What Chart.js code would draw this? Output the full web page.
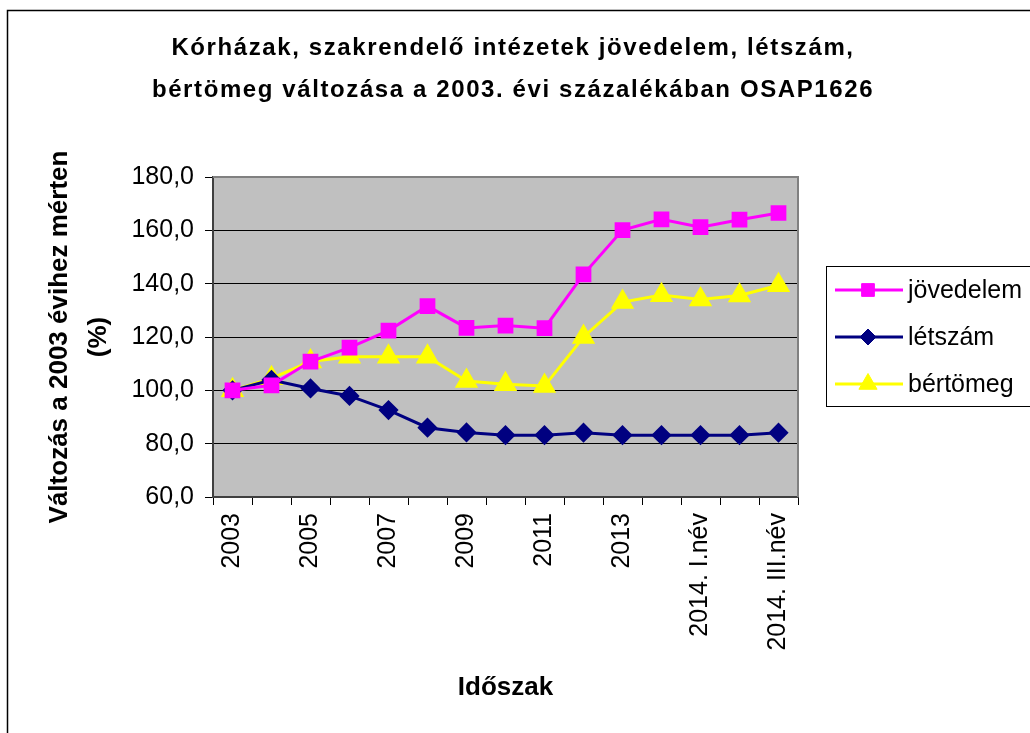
<!DOCTYPE html>
<html>
<head>
<meta charset="utf-8">
<script src="https://cdn.jsdelivr.net/npm/chart.js@4"></script>
<style>
  body { margin: 0; background: #fff; }
  canvas { display: block; }
</style>
</head>
<body>
<canvas id="myChart" width="1030" height="733"></canvas>
<script>
// data
const periods = [
  "2003", "2004", "2005", "2006", "2007", "2008", "2009", "2010",
  "2011", "2012", "2013", "2013. IV.név", "2014. I.név", "2014. II.név", "2014. III.név",
];
const jovedelem = [100, 101.9, 110.8, 116, 122.4, 131.6, 123.4, 124.3, 123.3, 143.5, 160.1, 164.1, 161.2, 164, 166.5];
const letszam = [100, 103.9, 100.7, 97.9, 92.6, 86, 84.2, 83.2, 83.2, 84.1, 83.2, 83.2, 83.2, 83.2, 84.1];
const bertomeg = [100, 104.5, 110.8, 112.6, 112.6, 112.6, 103.5, 102.3, 101.6, 120, 133.1, 135.7, 134.1, 135.6, 139.4];
const yTicks = [60, 80, 100, 120, 140, 160, 180];

const titleLines = [
  "Kórházak, szakrendelő intézetek jövedelem, létszám,",
  "bértömeg változása a 2003. évi százalékában OSAP1626",
];

const FONT = "'Liberation Sans', Arial, sans-serif";

// background, frame, title and legend
const decor = {
  id: "decor",
  beforeDraw(chart) {
    const { ctx, chartArea: a } = chart;
    ctx.save();
    ctx.fillStyle = "#c0c0c0";
    ctx.fillRect(a.left, a.top, a.right - a.left, a.bottom - a.top);
    ctx.restore();
  },
  afterDraw(chart) {
    const { ctx, chartArea: a } = chart;
    ctx.save();
    // plot border (top, right)
    ctx.strokeStyle = "#808080";
    ctx.lineWidth = 2;
    ctx.beginPath();
    ctx.moveTo(a.left, a.top);
    ctx.lineTo(a.right, a.top);
    ctx.lineTo(a.right, a.bottom);
    ctx.stroke();

    // outer frame
    ctx.strokeStyle = "#000";
    ctx.lineWidth = 1.5;
    ctx.beginPath();
    ctx.moveTo(7.5, 740);
    ctx.lineTo(7.5, 10.5);
    ctx.lineTo(1040, 10.5);
    ctx.stroke();

    // title
    ctx.fillStyle = "#000";
    ctx.font = "bold 24px " + FONT;
    ctx.letterSpacing = "1.6px";
    ctx.textAlign = "center";
    ctx.textBaseline = "alphabetic";
    ctx.fillText(titleLines[0], 513, 55);
    ctx.fillText(titleLines[1], 513, 97);
    ctx.letterSpacing = "0px";

    // legend
    ctx.strokeStyle = "#000";
    ctx.lineWidth = 1;
    ctx.strokeRect(826.5, 266.5, 210, 140);
    const rows = [290, 337, 384];
    chart.data.datasets.forEach((ds, i) => {
      const y = rows[i];
      ctx.strokeStyle = ds.borderColor;
      ctx.lineWidth = ds.borderWidth;
      ctx.beginPath();
      ctx.moveTo(835, y);
      ctx.lineTo(903, y);
      ctx.stroke();
      ctx.fillStyle = ds.pointBackgroundColor;
      ctx.strokeStyle = ds.pointBorderColor;
      ctx.lineWidth = 1;
      Chart.helpers.drawPoint(ctx, {
        pointStyle: ds.pointStyle,
        radius: ds.pointRadius,
        borderWidth: 1,
        rotation: 0,
      }, 868, y);
      ctx.fillStyle = "#000";
      ctx.font = "25px " + FONT;
      ctx.textAlign = "left";
      ctx.textBaseline = "middle";
      ctx.fillText(ds.label, 908, y + 1);
    });
    ctx.restore();
  },
};

const ctx = document.getElementById("myChart");

const chart = new Chart(ctx, {
  type: "line",
  data: {
    labels: periods,
    datasets: [
      {
        label: "jövedelem",
        data: jovedelem,
        borderColor: "#ff00ff",
        backgroundColor: "#ff00ff",
        pointBackgroundColor: "#ff00ff",
        pointBorderColor: "#ff00ff",
        pointStyle: "rect",
        pointRadius: 9,
        borderWidth: 3,
      },
      {
        label: "létszám",
        data: letszam,
        borderColor: "#000080",
        backgroundColor: "#000080",
        pointBackgroundColor: "#000080",
        pointBorderColor: "#000080",
        pointStyle: "rectRot",
        pointRadius: 8,
        borderWidth: 3,
      },
      {
        label: "bértömeg",
        data: bertomeg,
        borderColor: "#ffff00",
        backgroundColor: "#ffff00",
        pointBackgroundColor: "#ffff00",
        pointBorderColor: "#ffff00",
        pointStyle: "triangle",
        pointRadius: 10.5,
        borderWidth: 3,
      },
    ],
  },
  options: {
    responsive: false,
    animation: false,
    devicePixelRatio: 1,
    layout: { padding: { top: 177, right: 232, left: 0, bottom: 0 } },
    plugins: {
      legend: { display: false },
      title: { display: false },
      tooltip: { enabled: false },
    },
    scales: {
      x: {
        offset: true,
        afterFit: (s) => { s.height = 733 - 497; },
        grid: {
          offset: true,
          drawOnChartArea: false,
          drawTicks: true,
          tickLength: 8,
          color: "#000",
        },
        border: { color: "#404040", width: 2 },
        ticks: {
          autoSkip: false,
          minRotation: 90,
          maxRotation: 90,
          padding: 8,
          color: "#000",
          font: { family: FONT, size: 25 },
          callback: function (v, i) { return i % 2 === 0 ? periods[i] : ""; },
        },
        title: {
          display: true,
          text: "Időszak",
          color: "#000",
          font: { family: FONT, size: 26, weight: "bold" },
          padding: { top: 0, bottom: 30 },
        },
      },
      y: {
        min: yTicks[0],
        max: yTicks[yTicks.length - 1],
        afterFit: (s) => { s.width = 213; },
        afterBuildTicks: (s) => { s.ticks = yTicks.map((v) => ({ value: v })); },
        grid: { color: "#000", lineWidth: 1, tickLength: 8 },
        border: { color: "#404040", width: 2 },
        ticks: {
          padding: 11,
          color: "#000",
          font: { family: FONT, size: 25 },
          callback: (v) => v.toFixed(1).replace(".", ","),
        },
        title: {
          display: true,
          text: ["Változás a 2003 évihez mérten", "(%)"],
          color: "#000",
          font: { family: FONT, size: 26, weight: "bold", lineHeight: 1.5 },
          padding: { top: 40, bottom: 0 },
        },
      },
    },
  },
  plugins: [decor],
});
</script>
</body>
</html>
